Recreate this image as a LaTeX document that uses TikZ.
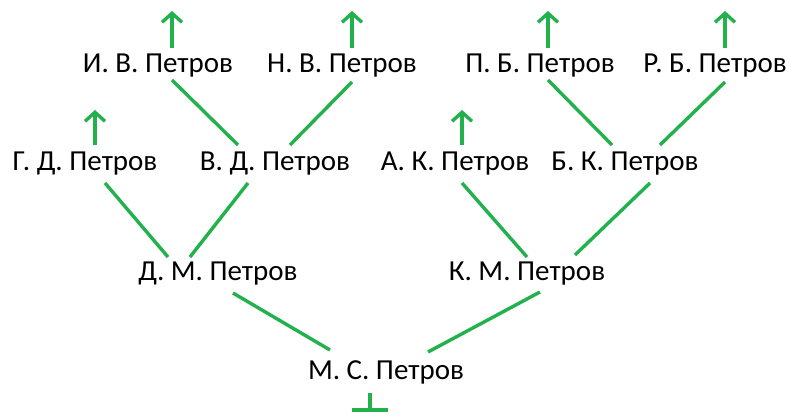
\documentclass[tikz,border=0pt]{standalone}
\usepackage{fontspec}
\setmainfont{Carlito}
\usetikzlibrary{arrows.meta, positioning}
\definecolor{treegreen}{RGB}{34,177,76}

\begin{document}
\begin{tikzpicture}[x=1pt, y=-1pt,
    person/.style={font=\fontsize{29}{32}\selectfont, inner sep=0pt},
    link/.style={treegreen, line width=3.4pt},
    up/.style={link, -{Straight Barb[length=9pt, width=20pt, line width=3.4pt]}}]

    \useasboundingbox (0,0) rectangle (797,419);

    % Generations
    \node[person] (ms) at (386,372) {М. С. Петров};

    \node[person] (dm) at (218,274) {Д. М. Петров};
    \node[person] (km) at (527,274) {К. М. Петров};

    \node[person] (gd) at (85,164) {Г. Д. Петров};
    \node[person] (vd) at (275,164) {В. Д. Петров};
    \node[person] (ak) at (455,164) {А. К. Петров};
    \node[person] (bk) at (625,164) {Б. К. Петров};

    \node[person] (iv) at (158,66) {И. В. Петров};
    \node[person] (nv) at (342,66) {Н. В. Петров};
    \node[person] (pb) at (540,66) {П. Б. Петров};
    \node[person] (rb) at (715,66) {Р. Б. Петров};

    % Root mark
    \coordinate (base) at (370,410);
    \draw[link] (370,393) -- (base);
    \draw[link] (352,410) -- (388,410);

    % Links
    \draw[link] (330,350) -- (233,293);
    \draw[link] (428,352) -- (540,292);
    \draw[link] (168,257) -- (105,183);
    \draw[link] (190,257) -- (248,183);
    \draw[link] (527,257) -- (462,183);
    \draw[link] (575,255) -- (650,183);
    \draw[link] (238,145) -- (172,80);
    \draw[link] (290,145) -- (352,82);
    \draw[link] (612,145) -- (548,80);
    \draw[link] (660,145) -- (725,82);

    % Open ends
    \foreach \x in {95, 462} {
        \draw[up] (\x,145) -- (\x,110);
    }
    \foreach \x in {172, 352, 548, 725} {
        \draw[up] (\x,48) -- (\x,11);
    }
\end{tikzpicture}
\end{document}
